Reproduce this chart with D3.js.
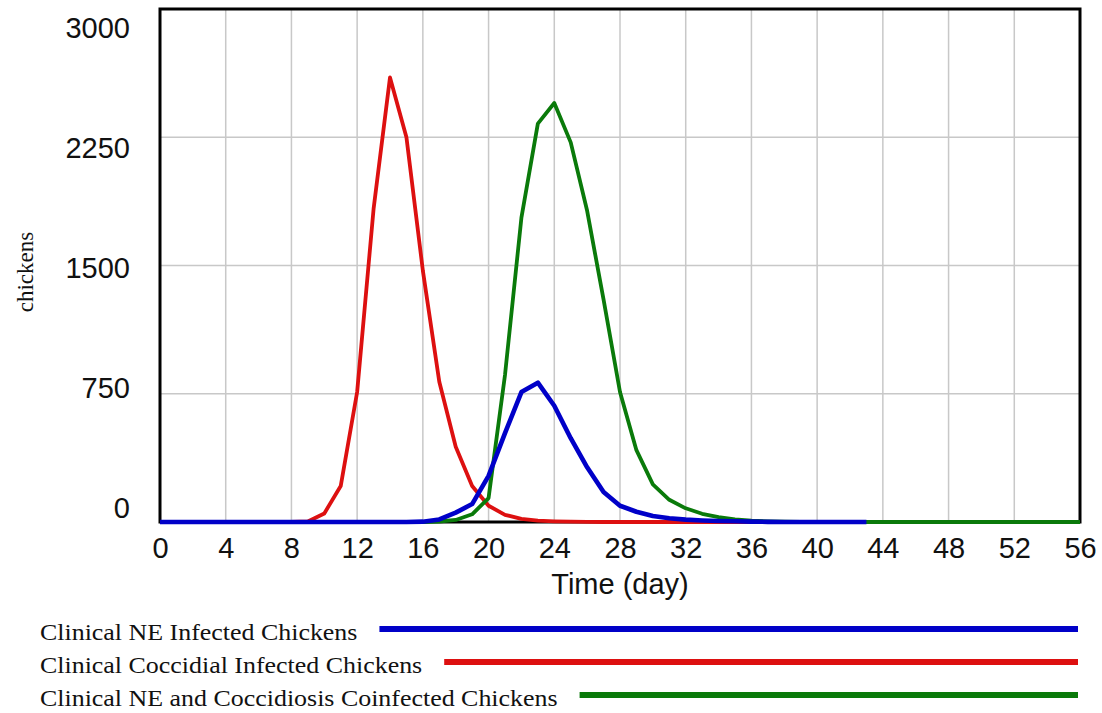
<!DOCTYPE html>
<html>
<head>
<meta charset="utf-8">
<script src="https://cdn.jsdelivr.net/npm/d3@7"></script>
<style>
  html, body { margin: 0; padding: 0; background: #fff; }
  svg { display: block; }
</style>
</head>
<body>
<svg id="chart" width="1102" height="713"></svg>
<script>
// ---------------- data ----------------
const days = d3.range(0, 57); // 0..56

const coccidial = [0,0,0,0,0,0,0,0,0,3,50,210,760,1830,2600,2250,1470,820,440,210,95,42,18,8,4,2,1,
  0,0,0,0,0,0,0,0,0,0,0,0,0,0,0,0,0,0,0,0,0,0,0,0,0,0,0,0,0,0];

const coinfected = [0,0,0,0,0,0,0,0,0,0,0,0,0,0,0,0,0,3,12,45,140,860,1780,2330,2450,2220,1820,1300,760,420,220,130,80,48,28,15,8,4,2,1,
  0,0,0,0,0,0,0,0,0,0,0,0,0,0,0,0,0];

// NE series only simulated to day 43
const neInfected = [0,0,0,0,0,0,0,0,0,0,0,0,0,0,0,0,2,15,55,105,270,520,760,815,680,490,320,175,95,60,35,22,14,9,6,4,2,1,0,0,0,0,0,0];

const xTicks = [0,4,8,12,16,20,24,28,32,36,40,44,48,52,56];
const yTicks = [0,750,1500,2250,3000];

const seriesNames = ["Clinical NE Infected Chickens", "Clinical Coccidial Infected Chickens", "Clinical NE and Coccidiosis Coinfected Chickens"];
const seriesColors = ["#0000c8", "#dd1010", "#0a7a0a"];

// ---------------- layout ----------------
const svg = d3.select("#chart");
const L = 160, R = 1080, T = 9, B = 522;

const x = d3.scaleLinear().domain([0, 56]).range([L, R]);
const y = d3.scaleLinear().domain([0, 3000]).range([B, T]);
// tick labels in this chart are spread over their own band
const yLab = d3.scaleLinear().domain([0, 3000]).range([517, 37]);

// grid
const grid = svg.append("g").attr("stroke", "#c8c8c8").attr("stroke-width", 1.5);
grid.selectAll("line.v").data(xTicks.slice(1, -1)).join("line")
  .attr("x1", d => x(d)).attr("x2", d => x(d)).attr("y1", T).attr("y2", B);
grid.selectAll("line.h").data(yTicks.slice(1, -1)).join("line")
  .attr("x1", L).attr("x2", R).attr("y1", d => y(d)).attr("y2", d => y(d));

// frame
svg.append("rect").attr("x", L).attr("y", T).attr("width", R - L).attr("height", B - T)
  .attr("fill", "none").attr("stroke", "#000").attr("stroke-width", 3);

// lines
const line = d3.line().x((d, i) => x(days[i])).y(d => y(d));
const drawOrder = [
  {vals: coccidial, color: seriesColors[1], w: 3.8},
  {vals: coinfected, color: seriesColors[2], w: 3.8},
  {vals: neInfected, color: seriesColors[0], w: 4.6}
];
svg.append("g").selectAll("path").data(drawOrder).join("path")
  .attr("d", d => line(d.vals))
  .attr("fill", "none")
  .attr("stroke", d => d.color)
  .attr("stroke-width", d => d.w)
  .attr("stroke-linejoin", "round");

// x axis labels
const xAxis = d3.axisBottom(x).tickValues(xTicks).tickSize(0).tickPadding(0).tickFormat(d3.format("d"));
const gx = svg.append("g").attr("transform", `translate(0,${B})`).call(xAxis);
gx.select(".domain").remove();
gx.selectAll("text").attr("y", 36).attr("dy", 0)
  .attr("font-family", "'Liberation Sans', Arial, sans-serif").attr("font-size", 29).attr("fill", "#111");

// y axis labels
const yAxis = d3.axisLeft(yLab).tickValues(yTicks).tickSize(0).tickPadding(0).tickFormat(d3.format("d"));
const gy = svg.append("g").attr("transform", `translate(130,0)`).call(yAxis);
gy.select(".domain").remove();
gy.selectAll("text").attr("dy", 0)
  .attr("font-family", "'Liberation Sans', Arial, sans-serif").attr("font-size", 29).attr("fill", "#111");

// axis titles
svg.append("text").attr("x", 620).attr("y", 594).attr("text-anchor", "middle")
  .attr("font-family", "'Liberation Sans', Arial, sans-serif").attr("font-size", 29).attr("fill", "#111")
  .text("Time (day)");
svg.append("text").attr("transform", "translate(33,272) rotate(-90)").attr("text-anchor", "middle")
  .attr("font-family", "'Liberation Serif', 'Times New Roman', serif").attr("font-size", 23).attr("fill", "#111")
  .text("chickens");

// legend
const legY = [640, 673, 706];
const leg = svg.append("g");
seriesNames.forEach((name, i) => {
  const t = leg.append("text").attr("x", 40).attr("y", legY[i])
    .attr("font-family", "'Liberation Serif', 'Times New Roman', serif").attr("font-size", 24).attr("fill", "#111")
    .text(name);
  const w = t.node().getComputedTextLength() * 1.08;
  t.attr("textLength", w).attr("lengthAdjust", "spacingAndGlyphs");
  leg.append("line").attr("x1", 40 + w + 22).attr("x2", 1078)
    .attr("y1", legY[i] - 11).attr("y2", legY[i] - 11)
    .attr("stroke", seriesColors[i]).attr("stroke-width", 6);
});
</script>
</body>
</html>
